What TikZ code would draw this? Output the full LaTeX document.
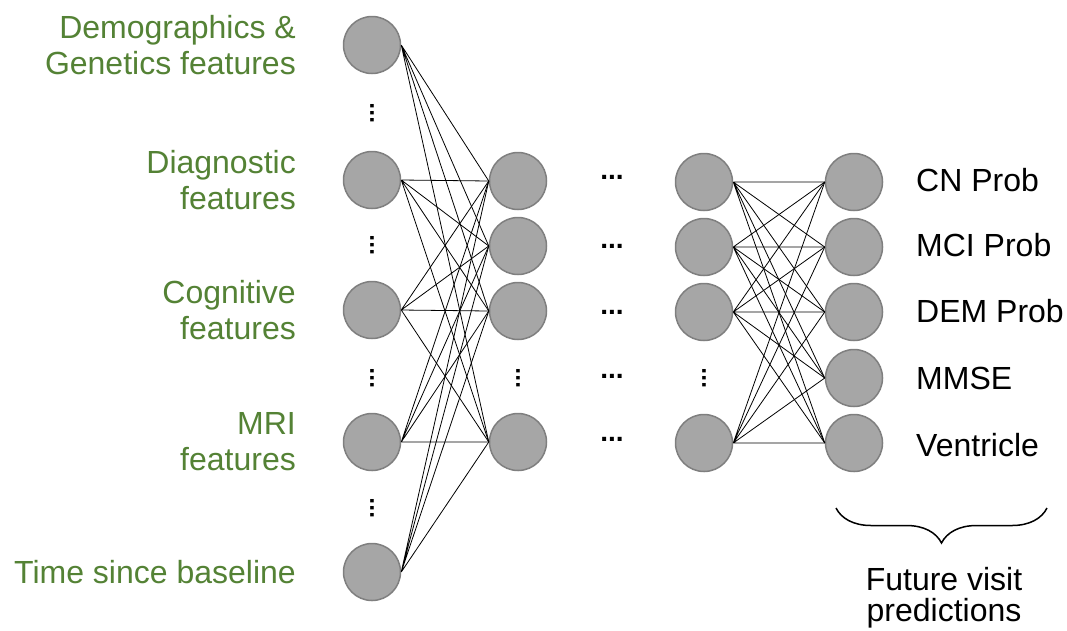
\documentclass[tikz,border=0pt]{standalone}
\usepackage{fontspec}
\setmainfont{Liberation Sans}
\usetikzlibrary{decorations.pathreplacing}
\definecolor{featgreen}{HTML}{548235}
\definecolor{unitfill}{HTML}{A6A6A6}
\definecolor{unitdraw}{HTML}{7F7F7F}
\begin{document}
\begin{tikzpicture}[x=1pt,y=-1pt,
  unit/.style={circle,fill=unitfill,draw=unitdraw,line width=1.5pt,minimum size=57pt,inner sep=0pt},
  feat/.style={anchor=east,align=right,inner sep=0pt,text=featgreen,font=\fontsize{32}{36}\selectfont},
  pred/.style={anchor=west,inner sep=0pt,font=\fontsize{32}{36}\selectfont},
  hdots/.style={inner sep=0pt,font=\fontsize{28}{28}\selectfont\bfseries},
  vdots/.style={inner sep=0pt,rotate=90,font=\fontsize{24}{24}\selectfont\bfseries},
  wire/.style={line width=0.8pt}]
        \useasboundingbox (0,0) rectangle (1067,630);
        % input layer
        \node [unit] (in1) at (372,45) {};
        \node [unit] (in2) at (372,180) {};
        \node [unit] (in3) at (372,310) {};
        \node [unit] (in4) at (372,442) {};
        \node [unit] (in5) at (372,572) {};
        \node [vdots] (din1) at (372,113) {...};
        \node [vdots] (din2) at (372,245) {...};
        \node [vdots] (din3) at (372,378) {...};
        \node [vdots] (din4) at (372,508) {...};
        \node [feat] (f1) at (296,45) {Demographics \&\\Genetics features};
        \node [feat] (f2) at (296,180) {Diagnostic\\features};
        \node [feat] (f3) at (296,310) {Cognitive\\features};
        \node [feat] (f4) at (296,442) {MRI\\features};
        \node [feat] (f5) at (296,572) {Time since baseline};
        % first hidden layer
        \node [unit] (h1) at (518,181) {};
        \node [unit] (h2) at (518,246) {};
        \node [unit] (h3) at (518,311) {};
        \node [unit] (h4) at (518,442) {};
        \node [vdots] (dh) at (518,378) {...};
        % skipped layers
        \node [hdots] (s1) at (612,177) {...};
        \node [hdots] (s2) at (612,246) {...};
        \node [hdots] (s3) at (612,312) {...};
        \node [hdots] (s4) at (612,376) {...};
        \node [hdots] (s5) at (612,439) {...};
        % last hidden layer
        \node [unit] (g1) at (704,182) {};
        \node [unit] (g2) at (704,247) {};
        \node [unit] (g3) at (704,312) {};
        \node [unit] (g4) at (704,443) {};
        \node [vdots] (dg) at (704,378) {...};
        % output layer
        \node [unit] (o1) at (854,182) {};
        \node [unit] (o2) at (854,247) {};
        \node [unit] (o3) at (854,312) {};
        \node [unit] (o4) at (854,378) {};
        \node [unit] (o5) at (854,443) {};
        \node [pred] (p1) at (916,180) {CN Prob};
        \node [pred] (p2) at (916,245) {MCI Prob};
        \node [pred] (p3) at (916,311) {DEM Prob};
        \node [pred] (p4) at (916,378) {MMSE};
        \node [pred] (p5) at (916,445) {Ventricle};
        % connections
        \draw [wire] (in1.east) -- (h1.west) (in1.east) -- (h2.west) (in1.east) -- (h3.west) (in1.east) -- (h4.west);
        \draw [wire] (in2.east) -- (h1.west) (in2.east) -- (h2.west) (in2.east) -- (h3.west) (in2.east) -- (h4.west);
        \draw [wire] (in3.east) -- (h1.west) (in3.east) -- (h2.west) (in3.east) -- (h3.west) (in3.east) -- (h4.west);
        \draw [wire] (in4.east) -- (h1.west) (in4.east) -- (h2.west) (in4.east) -- (h3.west) (in4.east) -- (h4.west);
        \draw [wire] (in5.east) -- (h1.west) (in5.east) -- (h2.west) (in5.east) -- (h3.west) (in5.east) -- (h4.west);
        \draw [wire] (g1.east) -- (o1.west) (g1.east) -- (o2.west) (g1.east) -- (o3.west) (g1.east) -- (o4.west) (g1.east) -- (o5.west);
        \draw [wire] (g2.east) -- (o1.west) (g2.east) -- (o2.west) (g2.east) -- (o3.west) (g2.east) -- (o4.west) (g2.east) -- (o5.west);
        \draw [wire] (g3.east) -- (o1.west) (g3.east) -- (o2.west) (g3.east) -- (o3.west) (g3.east) -- (o4.west) (g3.east) -- (o5.west);
        \draw [wire] (g4.east) -- (o1.west) (g4.east) -- (o2.west) (g4.east) -- (o3.west) (g4.east) -- (o4.west) (g4.east) -- (o5.west);
        % predictions brace
        \coordinate (bl) at (836,508);
        \coordinate (br) at (1047,508);
        \draw [decorate,decoration={brace,mirror,amplitude=35pt},line width=1.5pt] (bl) -- (br);
        \node [anchor=north,align=center,inner sep=0pt,font=\fontsize{32}{31}\selectfont] (fv) at (944,567) {Future visit\\predictions};
    \end{tikzpicture}
\end{document}
